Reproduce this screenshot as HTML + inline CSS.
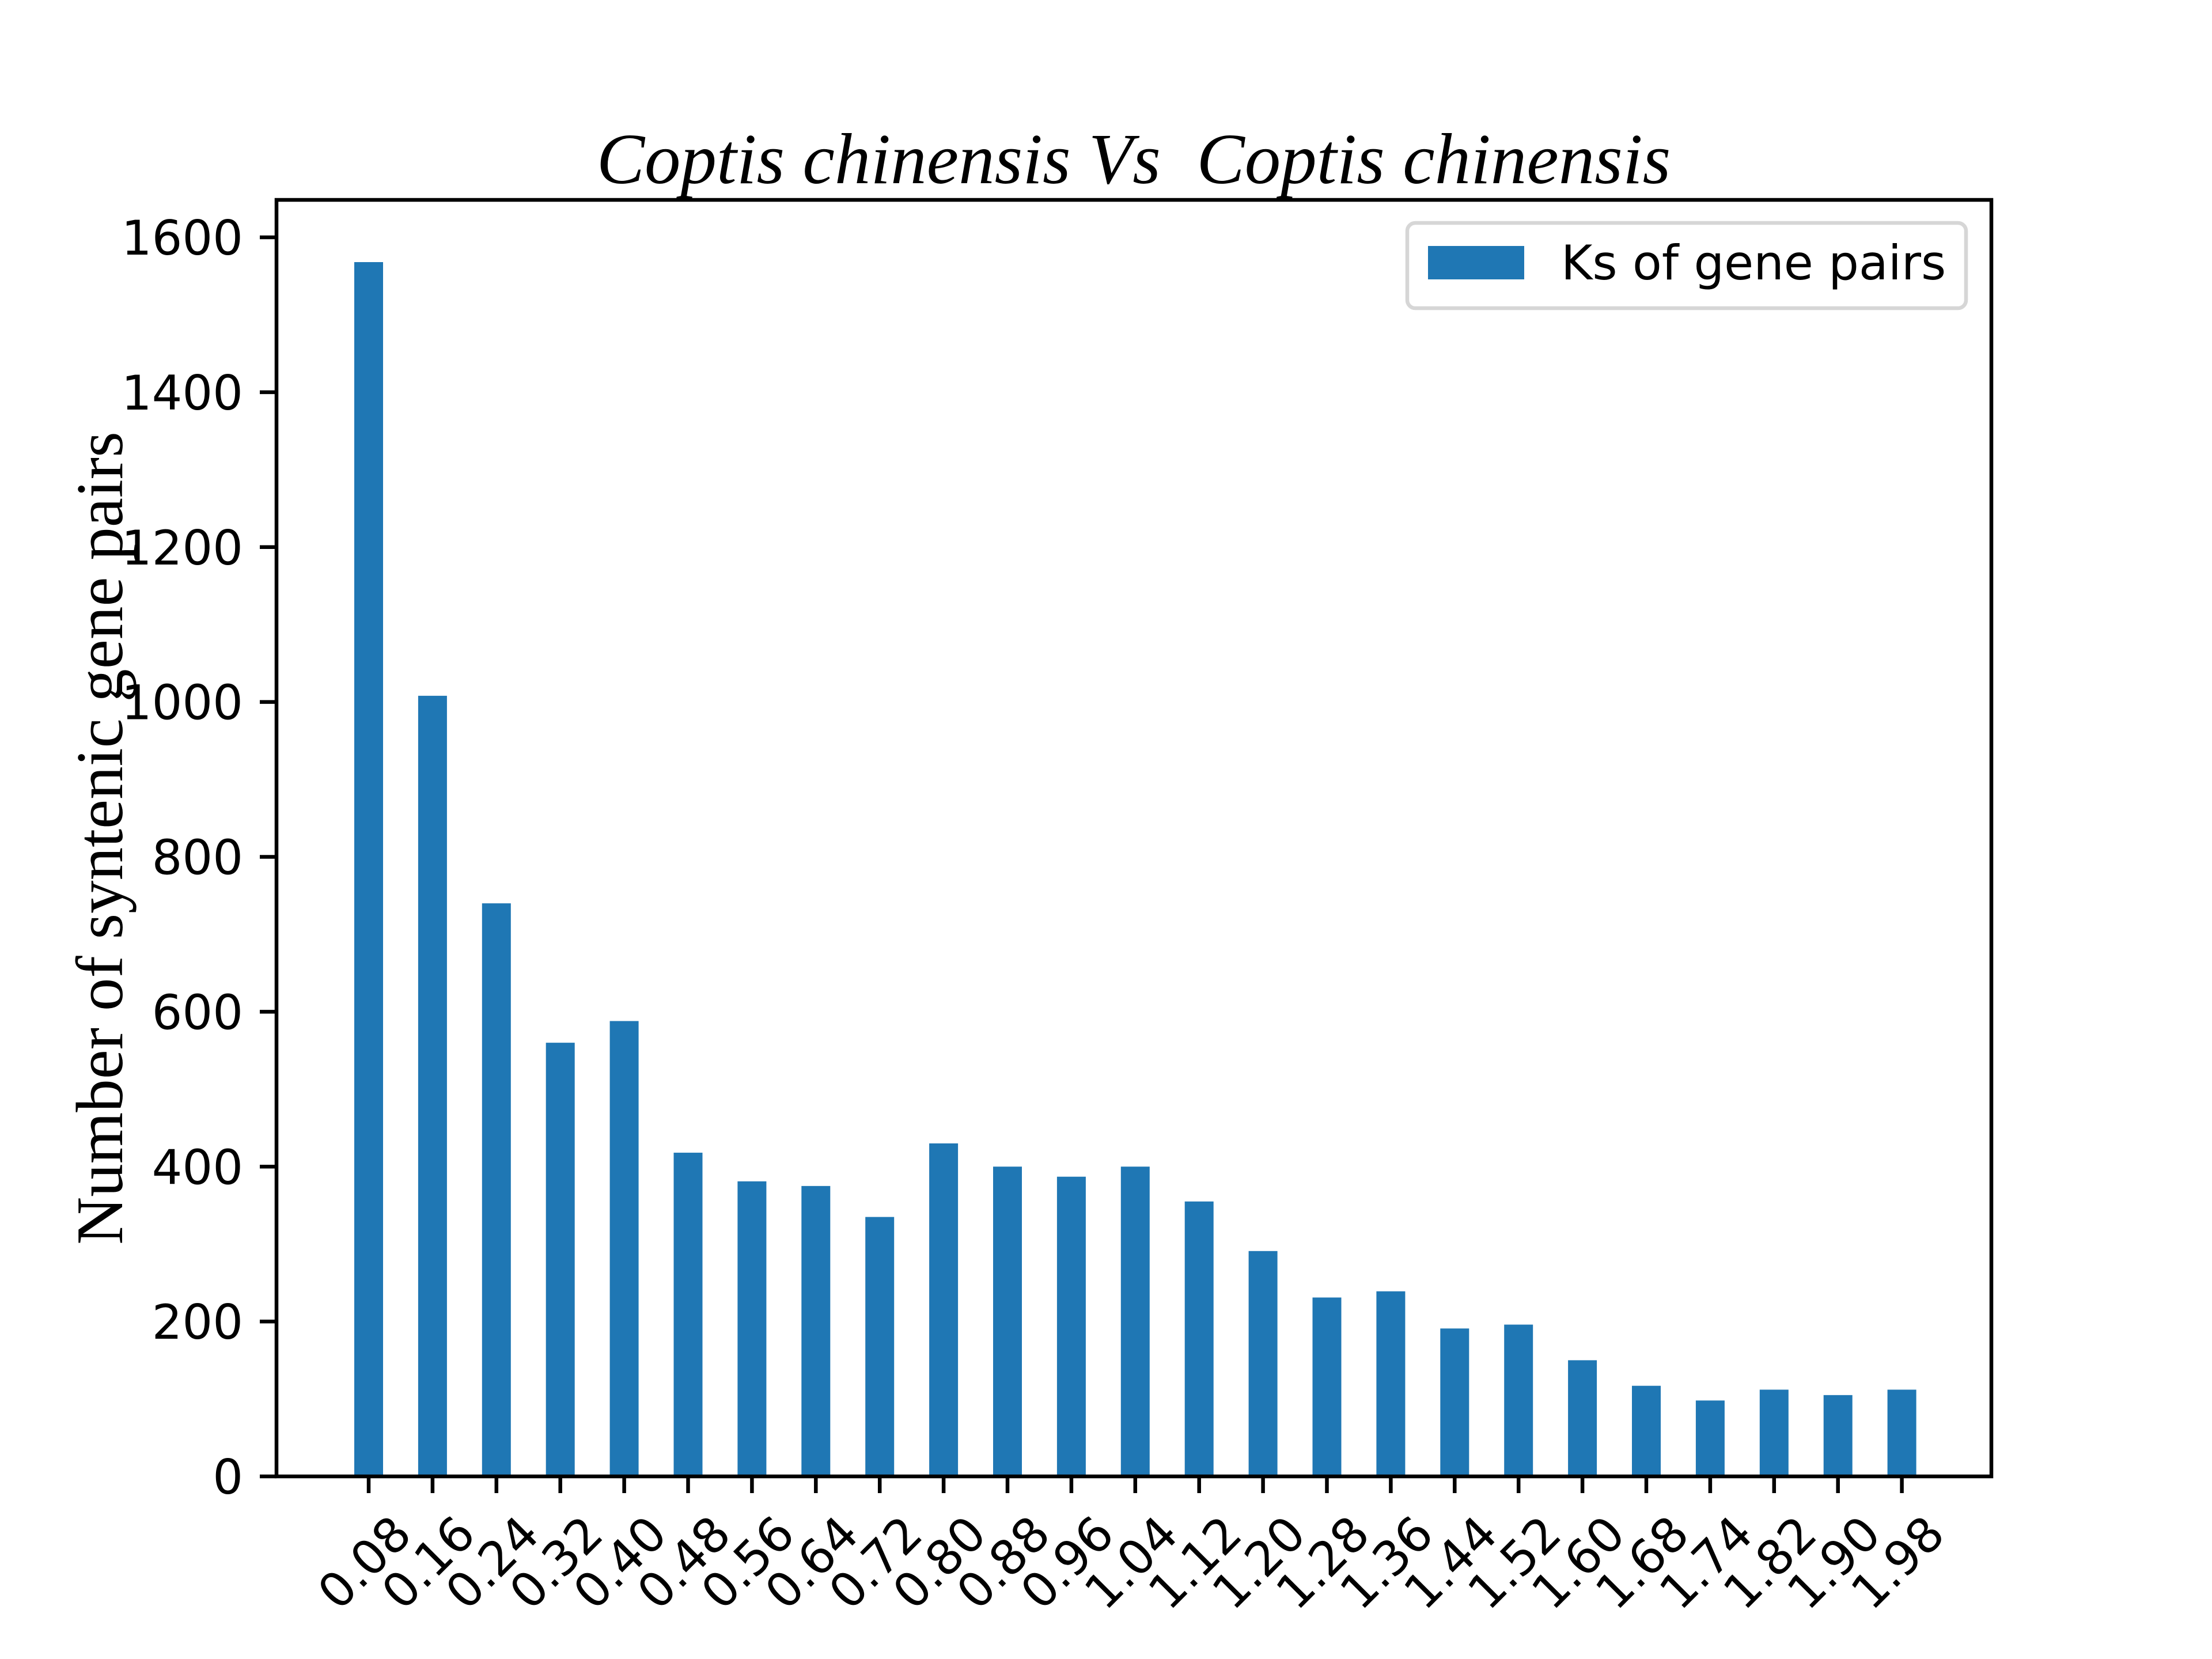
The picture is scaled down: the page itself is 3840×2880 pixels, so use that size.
<!DOCTYPE html>
<html><head><meta charset="utf-8"><style>html,body{margin:0;padding:0;background:#fff}svg{display:block}</style></head>
<body>
<svg id="chart" width="3840" height="2880" viewBox="0 0 3840 2880" xmlns="http://www.w3.org/2000/svg">
<rect width="3840" height="2880" fill="#fff"/>
<text x="1968" y="318" text-anchor="middle" font-family="Liberation Serif, serif" font-style="italic" font-size="125" style="white-space:pre">Coptis chinensis Vs  Coptis chinensis</text>
<text transform="translate(212,1455) rotate(-90)" text-anchor="middle" font-family="Liberation Serif, serif" font-size="115">Number of syntenic gene pairs</text>
<g id="bars"></g>
<g id="ticks"></g>
<rect x="480" y="347" width="2977" height="2216" fill="none" stroke="#000" stroke-width="6.5"/>
<g>
<rect x="2443" y="387" width="970" height="148" rx="14" fill="#fff" fill-opacity="0.8" stroke="#d6d6d6" stroke-width="6.5"/>
<rect x="2479" y="427" width="167" height="58" fill="#1f77b4"/>
<text x="2710" y="485" font-family="DejaVu Sans, Liberation Sans, sans-serif" font-size="83">Ks of gene pairs</text>
</g>
</svg>
<script>
const categories = ["0.08","0.16","0.24","0.32","0.40","0.48","0.56","0.64","0.72","0.80","0.88","0.96","1.04","1.12","1.20","1.28","1.36","1.44","1.52","1.60","1.68","1.74","1.82","1.90","1.98"];
const counts = [1568,1008,740,560,588,418,381,375,335,430,400,387,400,355,291,231,239,191,196,150,117,98,112,105,112];
const yTicks = [0,200,400,600,800,1000,1200,1400,1600];
const NS = "http://www.w3.org/2000/svg";
const x0 = 640, step = 110.9, barW = 50;
const yBase = 2563, yTop = 412;
function xPos(i){ return x0 + i*step; }
function yPos(v){ return yBase - v*(yBase-yTop)/1600; }
const bars = document.getElementById('bars');
const ticks = document.getElementById('ticks');
counts.forEach((v,i)=>{
  const r = document.createElementNS(NS,'rect');
  
  
  r.setAttribute('x', xPos(i)-barW/2);
  r.setAttribute('y', yPos(v));
  r.setAttribute('width', barW);
  r.setAttribute('height', yBase - yPos(v));
  r.setAttribute('fill', '#1f77b4');
  bars.appendChild(r);
});
categories.forEach((c,i)=>{
  const l = document.createElementNS(NS,'line');
  
  
  l.setAttribute('x1', xPos(i)); l.setAttribute('x2', xPos(i));
  l.setAttribute('y1', yBase); l.setAttribute('y2', yBase+29);
  l.setAttribute('stroke', '#000'); l.setAttribute('stroke-width', 6.5);
  ticks.appendChild(l);
  const t = document.createElementNS(NS,'text');
  
  
  const cx = xPos(i)-7, cy = 2713;
  t.setAttribute('transform', 'translate('+cx+','+cy+') rotate(-45)');
  t.setAttribute('text-anchor', 'middle');
  t.setAttribute('dominant-baseline', 'central');
  t.setAttribute('font-family', 'DejaVu Sans, Liberation Sans, sans-serif');
  t.setAttribute('font-size', 83);
  t.textContent = c;
  ticks.appendChild(t);
});
yTicks.forEach(v=>{
  const l = document.createElementNS(NS,'line');
  
  
  l.setAttribute('x1', 451); l.setAttribute('x2', 480);
  l.setAttribute('y1', yPos(v)); l.setAttribute('y2', yPos(v));
  l.setAttribute('stroke', '#000'); l.setAttribute('stroke-width', 6.5);
  ticks.appendChild(l);
  const t = document.createElementNS(NS,'text');
  
  
  t.setAttribute('x', 422);
  t.setAttribute('y', yPos(v)+30);
  t.setAttribute('text-anchor', 'end');
  t.setAttribute('font-family', 'DejaVu Sans, Liberation Sans, sans-serif');
  t.setAttribute('font-size', 83);
  t.textContent = v;
  ticks.appendChild(t);
});
</script>
</body></html>
